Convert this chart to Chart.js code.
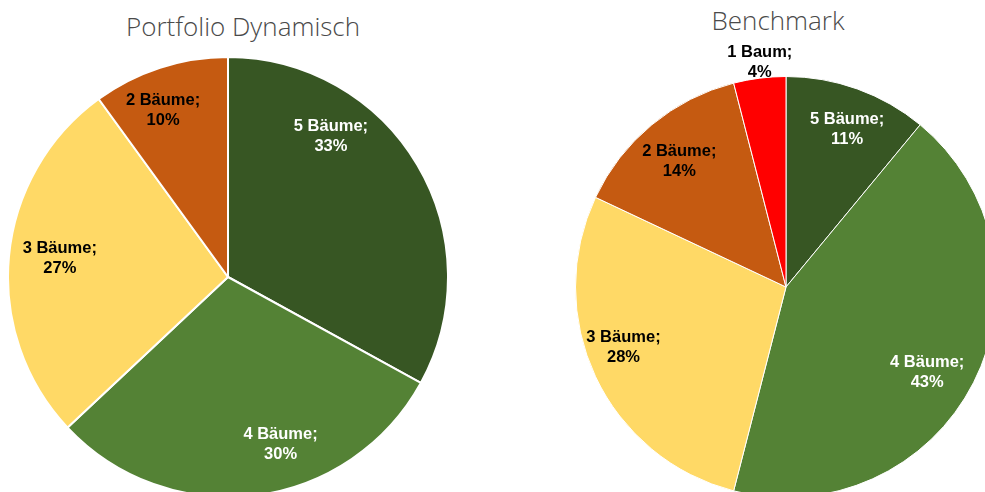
<!DOCTYPE html>
<html>
<head>
<meta charset="utf-8">
<script src="https://cdn.jsdelivr.net/npm/chart.js@4"></script>
<style>
  body { margin: 0; width: 985px; height: 492px; overflow: hidden; background: #fff; position: relative; }
  .title { position: absolute; font-family: "Open Sans", sans-serif; font-weight: 300; font-size: 26px; color: #4a4a4a; white-space: nowrap; transform: translateX(-50%); }
  canvas { position: absolute; }
</style>
</head>
<body>
<div class="title" id="t1" style="left:243px; top:8px;">Portfolio Dynamisch</div>
<div class="title" id="t2" style="left:778px; top:2px;">Benchmark</div>
<canvas id="chart1" width="442" height="442" style="left:7px; top:56px;"></canvas>
<canvas id="chart2" width="500" height="500" style="left:536px; top:37px;"></canvas>
<script>
// Portfolio Dynamisch
let kategorien1 = ['5 Bäume', '4 Bäume', '3 Bäume', '2 Bäume']
let werte1 = [33, 30, 27, 10]
let farben1 = ['#375623', '#548235', '#FFD966', '#C55A11']
let textFarben1 = ['#fff', '#fff', '#000', '#000']
let labelWinkel1 = [35.8, 162.4, 276.8, 338.9]
let labelRadius1 = [0.80, 0.79, 0.77, 0.82]

// Benchmark
let kategorien2 = ['5 Bäume', '4 Bäume', '3 Bäume', '2 Bäume', '1 Baum']
let werte2 = [11, 43, 28, 14, 4]
let farben2 = ['#375623', '#548235', '#FFD966', '#C55A11', '#FF0000']
let textFarben2 = ['#fff', '#fff', '#000', '#000', '#000']
let labelWinkel2 = [21, 120.7, 250.3, 320.1, 353.4]
let labelRadius2 = [0.81, 0.78, 0.82, 0.79, 1.083]

function labelPlugin(winkel, radius, textFarben) {
    return {
        id: 'pieLabels',
        afterDatasetsDraw(chart) {
            let ctx = chart.ctx
            let meta = chart.getDatasetMeta(0)
            let werte = chart.data.datasets[0].data
            ctx.save()
            ctx.font = 'bold 16.5px "Liberation Sans", Arial, sans-serif'
            ctx.textAlign = 'center'
            ctx.textBaseline = 'middle'
            meta.data.forEach(function(arc, i) {
                let a = winkel[i] * Math.PI / 180
                let r = arc.outerRadius * radius[i]
                let x = arc.x + Math.sin(a) * r
                let y = arc.y - Math.cos(a) * r
                ctx.fillStyle = textFarben[i]
                ctx.fillText(chart.data.labels[i] + ';', x, y - 8)
                ctx.fillText(werte[i] + '%', x, y + 12)
            })
            ctx.restore()
        }
    }
}

function machePie(id, kategorien, werte, farben, rand, pad, winkel, radius, textFarben) {
    return new Chart(document.getElementById(id).getContext('2d'), {
        type: 'pie',
        data: {
            labels: kategorien,
            datasets: [{
                data: werte,
                backgroundColor: farben,
                borderColor: '#ffffff',
                borderWidth: rand
            }]
        },
        options: {
            responsive: false,
            animation: false,
            layout: { padding: pad },
            plugins: {
                legend: { display: false },
                tooltip: { enabled: false }
            }
        },
        plugins: [labelPlugin(winkel, radius, textFarben)]
    })
}

let chart1 = machePie('chart1', kategorien1, werte1, farben1, 2, 0, labelWinkel1, labelRadius1, textFarben1)
let chart2 = machePie('chart2', kategorien2, werte2, farben2, 1, 39, labelWinkel2, labelRadius2, textFarben2)
</script>
</body>
</html>
